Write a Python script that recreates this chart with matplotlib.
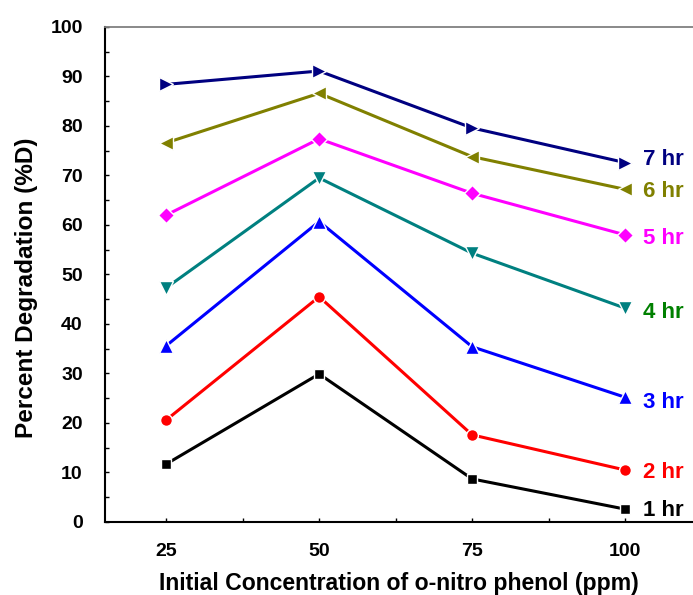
import numpy as np
import matplotlib.pyplot as plt
from matplotlib.ticker import MultipleLocator

plt.rcParams['font.family'] = ['Liberation Sans', 'DejaVu Sans']
plt.rcParams['font.weight'] = 'bold'

conc = [25, 50, 75, 100]
hr1 = [11.7, 29.9, 8.7, 2.6]
hr2 = [20.6, 45.5, 17.6, 10.5]
hr3 = [35.6, 60.7, 35.4, 25.2]
hr4 = [47.3, 69.5, 54.3, 43.2]
hr5 = [62.0, 77.4, 66.4, 58.0]
hr6 = [76.6, 86.6, 73.8, 67.2]
hr7 = [88.4, 91.1, 79.6, 72.6]
labels = ['1 hr', '2 hr', '3 hr', '4 hr', '5 hr', '6 hr', '7 hr']

fig = plt.figure(figsize=(6.93, 5.95), dpi=100)
ax = fig.add_axes([0.1515, 0.1227, 0.8485, 0.832])

series = [hr1, hr2, hr3, hr4, hr5, hr6, hr7]
line_colors = ['black', 'red', 'blue', '#008080', '#ff00ff', '#808000', '#000080']
text_colors = ['black', 'red', 'blue', '#008000', '#ff00ff', '#808000', '#000080']
markers = ['s', 'o', '^', 'v', 'D', '<', '>']
msizes = [7, 8.5, 9.5, 9.5, 8.5, 9.5, 9.5]
nudge = [-0.2, -0.6, -1.0, -0.9, -0.7, -0.5, 0.6]

for y, c, tc, m, ms, lab, dy in zip(series, line_colors, text_colors, markers, msizes, labels, nudge):
    ax.plot(conc, y, color=c, lw=2.2, marker=m, ms=ms, mfc=c, mec='white', mew=1)
    ax.text(conc[-1] + 2.9, y[-1] + dy, lab, color=tc, fontsize=16, fontweight='bold',
            va='center', ha='left')

ax.set_xlim(15, 111.1)
ax.set_ylim(0, 100)
ax.set_xticks(conc)
ax.set_yticks(np.arange(0, 101, 10))
ax.xaxis.set_minor_locator(MultipleLocator(12.5))
ax.yaxis.set_minor_locator(MultipleLocator(5))
ax.tick_params(which='both', direction='in', length=3, width=1)
ax.tick_params(which='major', labelsize=14)
ax.tick_params(axis='y', which='major', pad=16)
ax.tick_params(axis='x', which='major', pad=15)
for lab in ax.get_xticklabels() + ax.get_yticklabels():
    lab.set_fontweight('bold')

ax.spines['right'].set_visible(False)
ax.spines['top'].set_color('#808080')
ax.spines['top'].set_linewidth(1.3)
ax.spines['left'].set_linewidth(1.5)
ax.spines['bottom'].set_linewidth(1.5)

ax.set_xlabel('Initial Concentration of o-nitro phenol (ppm)', fontsize=16.6,
              fontweight='bold', labelpad=9)
ax.set_ylabel('Percent Degradation (%D)', fontsize=17.6, fontweight='bold')
ax.yaxis.set_label_coords(-0.114, 0.473)

fig.savefig('out.png', dpi=100)
